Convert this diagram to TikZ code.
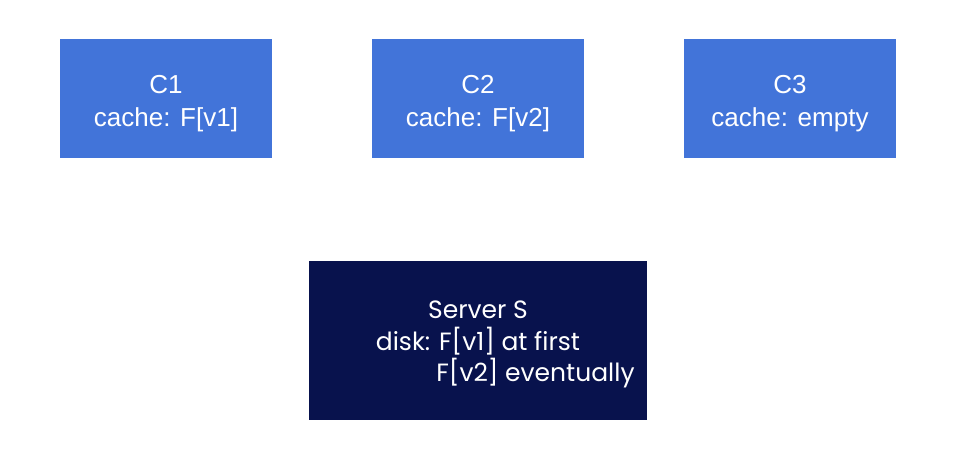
\documentclass[tikz,border=0pt]{standalone}
\usepackage{fontspec}
\setmainfont{Liberation Sans}
\newfontfamily\serverfont{Poppins}
\definecolor{clientblue}{HTML}{4274D9}
\definecolor{servernavy}{HTML}{08124D}
\begin{document}
\begin{tikzpicture}[x=1pt,y=-1pt,
    client/.style={fill=clientblue,text=white,inner sep=0pt,
      minimum width=212pt,minimum height=119pt,align=center,
      text height=62pt,text depth=5pt,
      font=\fontsize{26}{33}\selectfont},
    server/.style={fill=servernavy,text=white,inner sep=0pt,
      minimum width=338pt,minimum height=159pt,align=center,
      text height=88.4pt,text depth=6pt,
      font=\serverfont\fontsize{25}{31.7}\selectfont}]
  \useasboundingbox (0,0) rectangle (968,468);

  % Clients
  \node[client] (c1) at (166,98.5) {C1\\cache: F[v1]};
  \node[client] (c2) at (478,98.5) {C2\\cache: F[v2]};
  \node[client] (c3) at (790,98.5) {C3\\cache: empty};

  % Server
  \node[server] (s) at (478,340.5) {Server S\\disk: F[v1] at first\\\hspace*{115pt}F[v2] eventually};
\end{tikzpicture}
\end{document}
